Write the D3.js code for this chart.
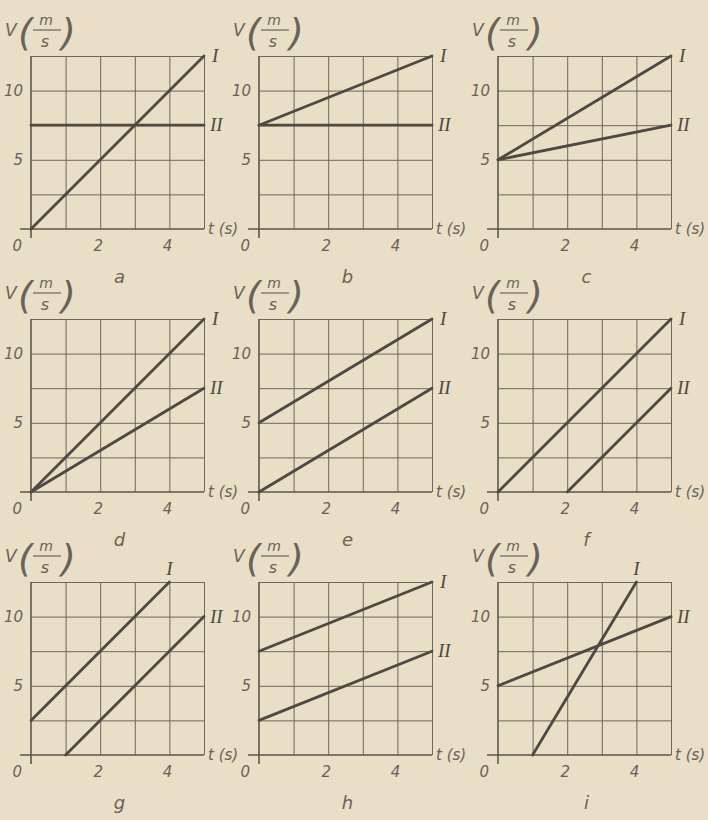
<!DOCTYPE html>
<html>
<head>
<meta charset="utf-8">
<script src="https://cdn.jsdelivr.net/npm/d3@7"></script>
<style>
  body { margin: 0; background: #e9dec6; }
  svg { display: block; }
  .grid line { stroke: #6e675e; stroke-width: 1; }
  .grid path { display: none; }
  .tick-label, .axis-name { font-family: "DejaVu Sans", sans-serif; font-style: italic; font-weight: 300; fill: #6a625a; }
  .roman { font-family: "Liberation Serif", serif; font-style: italic; fill: #4f4943; }
  .data-line { stroke: #4f4843; stroke-width: 2.8; fill: none; stroke-linecap: round; }
</style>
</head>
<body>
<div id="chart"></div>
<script>
window.addEventListener("load", () => {

  // data
  const panelIds = ["a", "b", "c", "d", "e", "f", "g", "h", "i"];
  const xGrid = [0, 1, 2, 3, 4, 5];
  const yGrid = [0, 2.5, 5, 7.5, 10, 12.5];
  const xTickLabels = [2, 4];
  const yTickLabels = [5, 10];

  // [t, v] start and end points of line I and line II in each panel
  const lineI = [
    [[0, 0], [5, 12.5]],
    [[0, 7.5], [5, 12.5]],
    [[0, 5], [5, 12.5]],
    [[0, 0], [5, 12.5]],
    [[0, 5], [5, 12.5]],
    [[0, 0], [5, 12.5]],
    [[0, 2.5], [4, 12.5]],
    [[0, 7.5], [5, 12.5]],
    [[1, 0], [4, 12.5]]
  ];
  const lineII = [
    [[0, 7.5], [5, 7.5]],
    [[0, 7.5], [5, 7.5]],
    [[0, 5], [5, 7.5]],
    [[0, 0], [5, 7.5]],
    [[0, 0], [5, 7.5]],
    [[2, 0], [5, 7.5]],
    [[1, 0], [5, 10]],
    [[0, 2.5], [5, 7.5]],
    [[0, 5], [5, 10]]
  ];

  // layout
  const colLeft = [31, 259, 498];
  const rowTop = [56, 319, 582];
  const plotW = 173;
  const plotH = 173;

  const svg = d3.select("#chart").append("svg")
                .attr("width", 708)
                .attr("height", 820);

  svg.append("rect")
     .attr("width", 708)
     .attr("height", 820)
     .attr("fill", "#e9dec6");

  const x = d3.scaleLinear().domain([0, 5]).range([0, plotW]);
  const y = d3.scaleLinear().domain([0, 12.5]).range([plotH, 0]);

  const line = d3.line()
    .x(d => x(d[0]))
    .y(d => y(d[1]));

  panelIds.forEach((id, i) => {
    const g = svg.append("g")
                 .attr("transform", `translate(${colLeft[i % 3]}, ${rowTop[Math.floor(i / 3)]})`);

    // grid lines through the axis generators
    g.append("g")
     .attr("class", "grid")
     .call(d3.axisLeft(y).tickValues(yGrid.slice(1)).tickSize(-plotW).tickFormat(""));
    g.append("g")
     .attr("class", "grid")
     .call(d3.axisBottom(x).tickValues(xGrid.slice(1)).tickSize(plotH).tickFormat(""));

    // axes, a bit heavier and overshooting
    g.append("line")
     .attr("x1", -11).attr("x2", plotW)
     .attr("y1", y(0)).attr("y2", y(0))
     .attr("stroke", "#5c554e").attr("stroke-width", 1.6);
    g.append("line")
     .attr("x1", x(0)).attr("x2", x(0))
     .attr("y1", y(12.5)).attr("y2", y(0) + 9)
     .attr("stroke", "#5c554e").attr("stroke-width", 1.6);

    // tick labels
    g.selectAll(".xl")
     .data(xTickLabels)
     .join("text")
      .attr("class", "tick-label")
      .attr("x", d => x(d) - 2)
      .attr("y", y(0) + 22)
      .attr("text-anchor", "middle")
      .attr("font-size", 15)
      .text(d => d);
    g.selectAll(".yl")
     .data(yTickLabels)
     .join("text")
      .attr("class", "tick-label")
      .attr("x", -8)
      .attr("y", d => y(d) + 5)
      .attr("text-anchor", "end")
      .attr("font-size", 15)
      .text(d => d);
    g.append("text")
     .attr("class", "tick-label")
     .attr("x", -9)
     .attr("y", y(0) + 22)
     .attr("text-anchor", "end")
     .attr("font-size", 15)
     .text("0");

    // axis names
    g.append("text")
     .attr("class", "axis-name")
     .attr("x", plotW + 4)
     .attr("y", y(0) + 5)
     .attr("font-size", 15)
     .text("t (s)");

    // V (m/s) written as a fraction in big parentheses
    const yName = g.append("g");
    yName.append("text").attr("class", "axis-name").attr("x", -26).attr("y", -20).attr("font-size", 17).text("V");
    yName.append("text").attr("class", "axis-name").attr("x", -13).attr("y", -11).attr("font-size", 38).text("(");
    yName.append("text").attr("class", "axis-name").attr("x", 15).attr("y", -31).attr("text-anchor", "middle").attr("font-size", 14).text("m");
    yName.append("line").attr("x1", 2).attr("x2", 30).attr("y1", -26).attr("y2", -26).attr("stroke", "#6a625a").attr("stroke-width", 1.2);
    yName.append("text").attr("class", "axis-name").attr("x", 14).attr("y", -9).attr("text-anchor", "middle").attr("font-size", 16).text("s");
    yName.append("text").attr("class", "axis-name").attr("x", 30).attr("y", -11).attr("font-size", 38).text(")");

    // data lines
    g.append("path").datum(lineII[i]).attr("class", "data-line").attr("d", line);
    g.append("path").datum(lineI[i]).attr("class", "data-line").attr("d", line);

    // roman labels at line ends
    const endI = lineI[i][1];
    const iAtRight = endI[0] === 5;
    g.append("text")
     .attr("class", "roman")
     .attr("x", iAtRight ? x(endI[0]) + 8 : x(endI[0]))
     .attr("y", iAtRight ? y(endI[1]) + 6 : y(endI[1]) - 7)
     .attr("text-anchor", iAtRight ? "start" : "middle")
     .attr("font-size", 19)
     .text("I");
    const endII = lineII[i][1];
    g.append("text")
     .attr("class", "roman")
     .attr("x", x(endII[0]) + 6)
     .attr("y", y(endII[1]) + 6)
     .attr("font-size", 19)
     .text("II");

    // panel letter
    g.append("text")
     .attr("class", "tick-label")
     .attr("x", plotW / 2 + 2)
     .attr("y", y(0) + 54)
     .attr("text-anchor", "middle")
     .attr("font-size", 18)
     .text(id);
  });
});
</script>
</body>
</html>
